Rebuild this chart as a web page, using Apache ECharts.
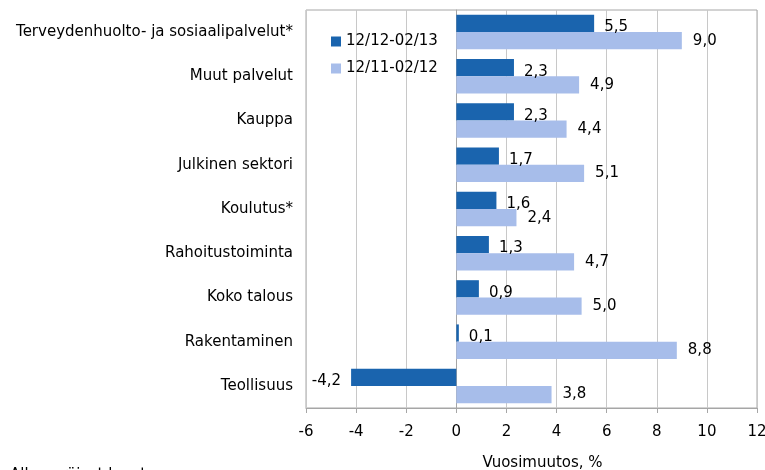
<!DOCTYPE html>
<html>
<head>
<meta charset="utf-8">
<script src="https://cdn.jsdelivr.net/npm/echarts@6/dist/echarts.min.js"></script>
<style>html,body{margin:0;padding:0;background:#fff}#c{width:765px;height:470px}</style>
</head>
<body>
<div id="c"></div>
<script>
var categories = ['Terveydenhuolto- ja sosiaalipalvelut*','Muut palvelut','Kauppa','Julkinen sektori','Koulutus*','Rahoitustoiminta','Koko talous','Rakentaminen','Teollisuus'];
var seriesNames = ['12/12-02/13','12/11-02/12'];
var recent = [5.5, 2.3, 2.3, 1.7, 1.6, 1.3, 0.9, 0.1, -4.2];
var previous = [9.0, 4.9, 4.4, 5.1, 2.4, 4.7, 5.0, 8.8, 3.8];
var xTicks = [-6, 12, 2];

var font = 'DejaVu Sans, sans-serif';
function fmt(p){ return p.value.toFixed(1).replace('.', ','); }
function mk(vals){
  return vals.map(function(v){
    return {value: v, label: {position: v < 0 ? 'left' : 'right'}};
  });
}
var chart = echarts.init(document.getElementById('c'));
chart.setOption({
  animation: false,
  grid: {left: 306, right: 8, top: 10, bottom: 62, show: true, borderColor: '#a6a6a6', borderWidth: 1,
         containLabel: false, outerBoundsMode: 'none'},
  legend: {
    orient: 'vertical', left: 326, top: 29, itemWidth: 10, itemHeight: 10, itemGap: 12,
    textStyle: {fontFamily: font, fontSize: 15, color: '#000'},
    data: [{name: seriesNames[0], icon: 'rect'}, {name: seriesNames[1], icon: 'rect'}]
  },
  xAxis: {
    type: 'value', min: xTicks[0], max: xTicks[1], interval: xTicks[2],
    axisLine: {show: true, lineStyle: {color: '#a6a6a6'}},
    axisTick: {show: true, length: 5, lineStyle: {color: '#a6a6a6'}},
    splitLine: {show: true, lineStyle: {color: '#c8c8c8'}},
    axisLabel: {fontFamily: font, fontSize: 15, color: '#000', margin: 17},
    name: 'Vuosimuutos, %', nameLocation: 'middle', nameGap: 48,
    nameTextStyle: {fontFamily: font, fontSize: 15, color: '#000', padding: [0, 0, 0, 22]}
  },
  yAxis: {
    type: 'category', data: categories, inverse: true,
    axisLine: {show: true, lineStyle: {color: '#a6a6a6'}},
    axisTick: {show: false},
    axisLabel: {fontFamily: font, fontSize: 15, color: '#000', margin: 13}
  },
  series: [
    {name: seriesNames[0], type: 'bar', data: mk(recent), barGap: '0%', barCategoryGap: '22%',
     itemStyle: {color: '#1a64ae'},
     label: {show: true, distance: 10, offset: [0, 4], formatter: fmt, fontFamily: font, fontSize: 15, color: '#000'}},
    {name: seriesNames[1], type: 'bar', data: mk(previous), barGap: '0%', barCategoryGap: '22%',
     itemStyle: {color: '#a7bdea'},
     label: {show: true, distance: 11, formatter: fmt, fontFamily: font, fontSize: 15, color: '#000'}}
  ],
  graphic: [{type: 'text', left: 10, top: 468, style: {text: 'Alkuperäiset luvut', font: '15px ' + font, fill: '#000'}}]
});
</script>
</body>
</html>
